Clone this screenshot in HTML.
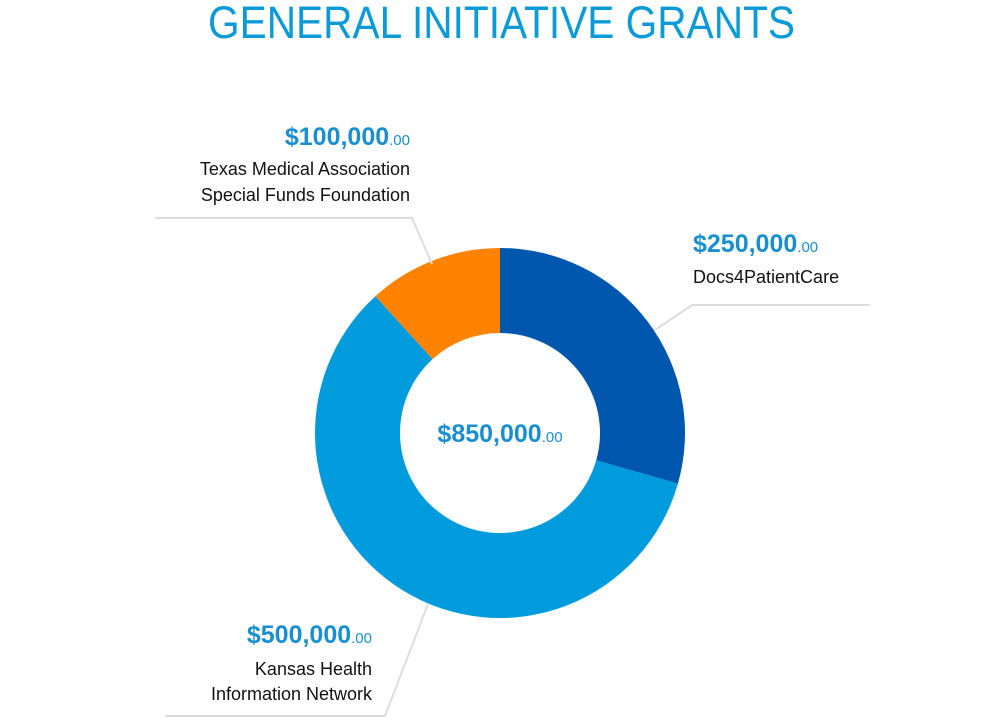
<!DOCTYPE html>
<html><head><meta charset="utf-8"><style>
html,body{margin:0;padding:0;background:#fff;}
svg{display:block;font-family:"Liberation Sans",sans-serif;}
.amt{fill:#1a8fd0;font-weight:bold;font-size:25px;}
.cents{font-size:15px;font-weight:normal;}
.lbl{fill:#111;font-size:18px;}
</style></head><body>
<svg id="chart" width="1000" height="720">
<text x="208" y="38" textLength="587" lengthAdjust="spacingAndGlyphs" font-size="45" fill="#0b9ad8">GENERAL INITIATIVE GRANTS</text>
<g id="slices"></g>
<g stroke="#dddddd" stroke-width="2" fill="none">
<polyline points="155,218 412,218 432,264"/>
<polyline points="870,305 692,305 655,330"/>
<polyline points="165,716 385,716 428,604"/>
</g>
<text class="amt" x="410" y="145" text-anchor="end">$100,000<tspan class="cents">.00</tspan></text>
<text class="lbl" x="410" y="175" text-anchor="end">Texas Medical Association</text>
<text class="lbl" x="410" y="201" text-anchor="end">Special Funds Foundation</text>
<text class="amt" x="693" y="252">$250,000<tspan class="cents">.00</tspan></text>
<text class="lbl" x="693" y="283">Docs4PatientCare</text>
<text class="amt" x="372" y="643" text-anchor="end">$500,000<tspan class="cents">.00</tspan></text>
<text class="lbl" x="372" y="675" text-anchor="end">Kansas Health</text>
<text class="lbl" x="372" y="700" text-anchor="end">Information Network</text>
<text class="amt" x="500" y="442" text-anchor="middle">$850,000<tspan class="cents">.00</tspan></text>
</svg>
<script>
const categories = ["Docs4PatientCare", "Kansas Health Information Network", "Texas Medical Association Special Funds Foundation"];
const values = [250000, 500000, 100000];
const colors = ["#0057ad", "#009bdc", "#ff8200"];
const cx = 500, cy = 433, R = 185, r = 100;
const total = values.reduce((a, b) => a + b, 0);
const g = document.getElementById('slices');
function pt(rad, a) { return [cx + rad * Math.sin(a), cy - rad * Math.cos(a)]; }
let start = 0;
values.forEach((v, i) => {
  const end = start + v / total * 2 * Math.PI;
  const large = (end - start) > Math.PI ? 1 : 0;
  const [x1, y1] = pt(R, start), [x2, y2] = pt(R, end), [x3, y3] = pt(r, end), [x4, y4] = pt(r, start);
  const p = document.createElementNS('http://www.w3.org/2000/svg', 'path');
  p.setAttribute('d', `M${x1},${y1}A${R},${R} 0 ${large} 1 ${x2},${y2}L${x3},${y3}A${r},${r} 0 ${large} 0 ${x4},${y4}Z`);
  p.setAttribute('fill', colors[i]);
  
  
  g.appendChild(p);
  start = end;
});
</script>
</body></html>
